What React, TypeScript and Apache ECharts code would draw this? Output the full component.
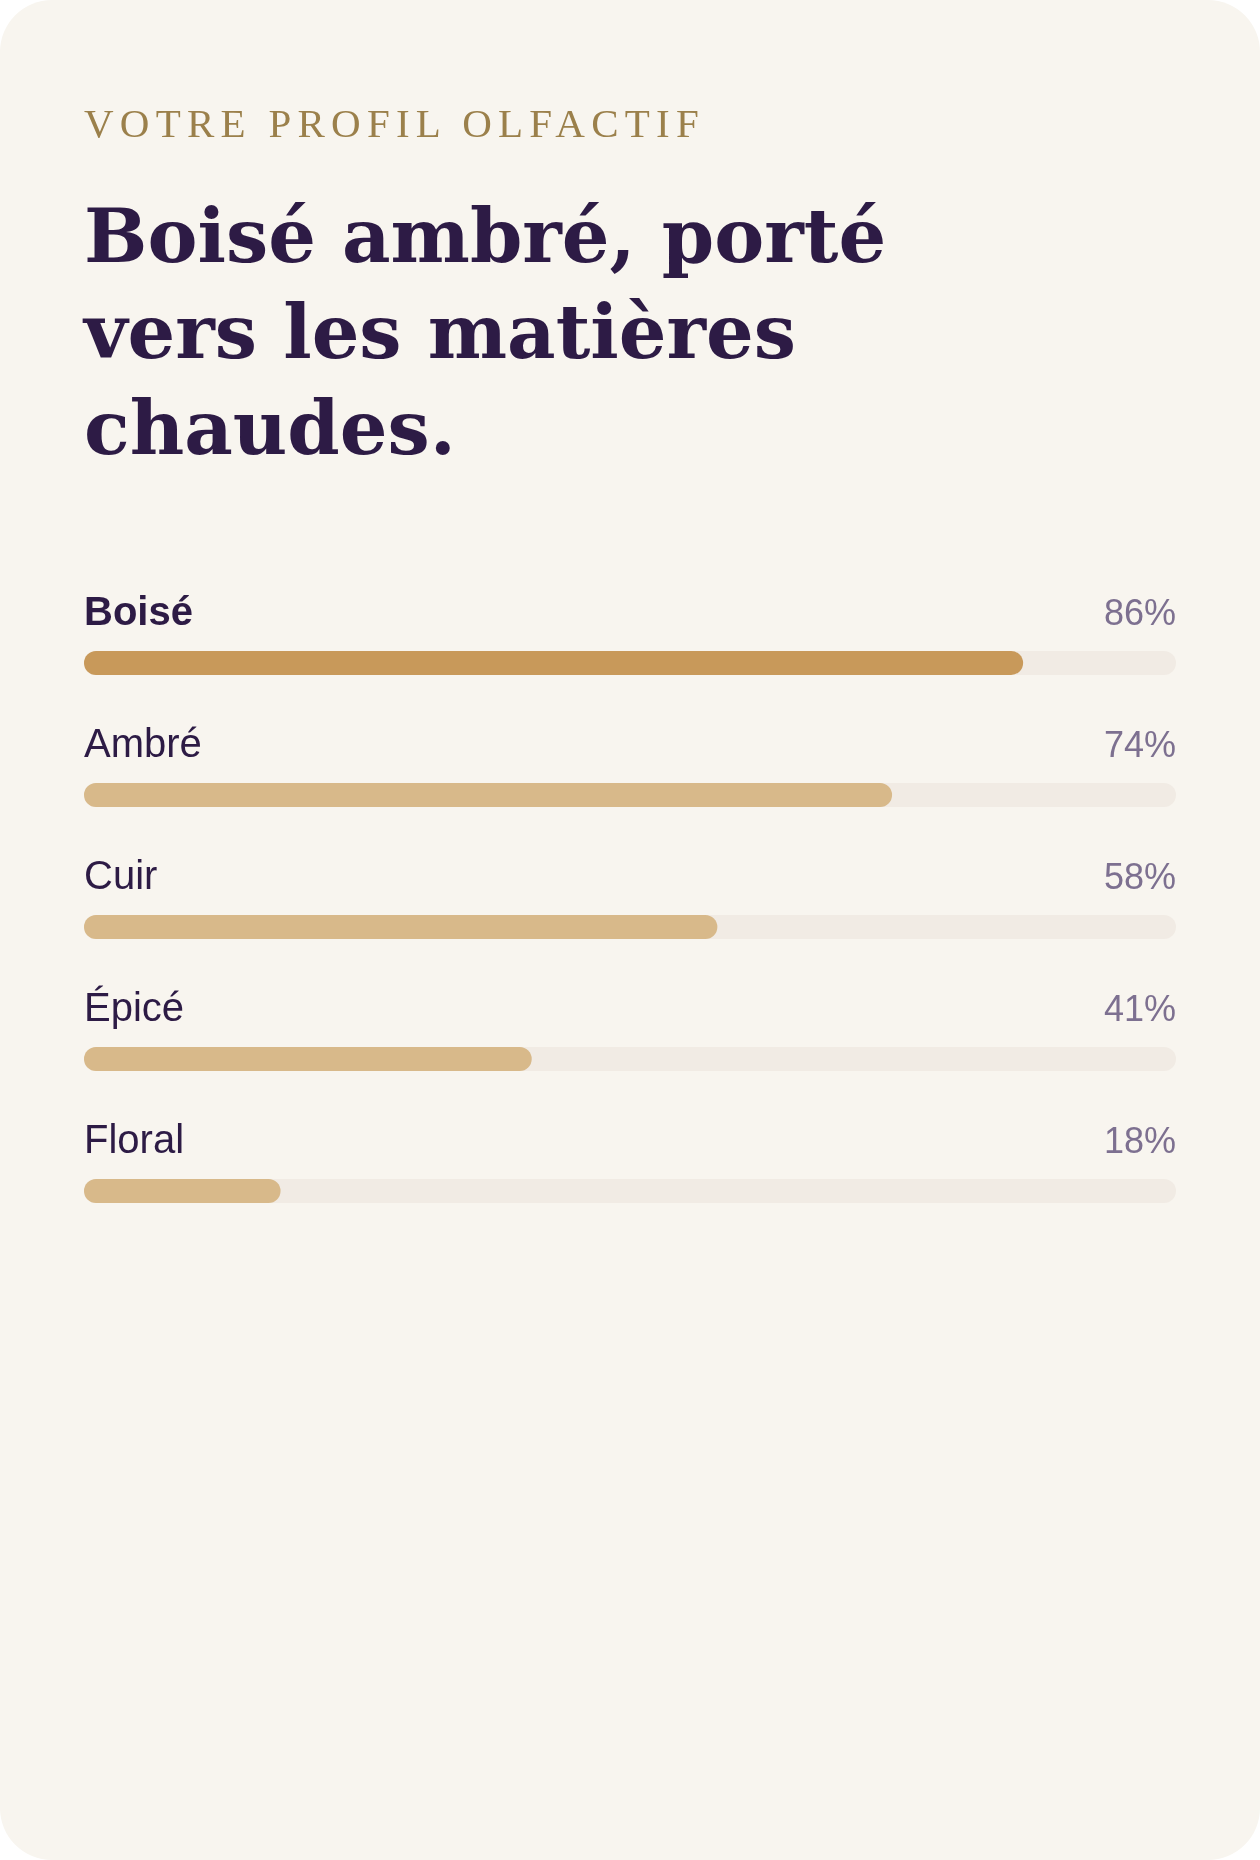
import { useEffect, useRef } from 'react';
import * as echarts from 'echarts';

const eyebrow = 'VOTRE PROFIL OLFACTIF';
const headline = ['Boisé ambré, porté', 'vers les matières', 'chaudes.'];
const notes = ['Boisé', 'Ambré', 'Cuir', 'Épicé', 'Floral'];
const scores = [86, 74, 58, 41, 18];
const leadNote = 'Boisé';
const scoreMax = 100;

const W = 1260;
const H = 1860;

const ink = '#2d1b45';
const gold = '#c8995a';
const sand = '#d8b98a';
const track = '#f1ebe4';
const paper = '#f8f5ef';

export default function App() {
  const chartRef = useRef<HTMLDivElement>(null);

  useEffect(() => {
    if (!chartRef.current) return;
    const chart = echarts.init(chartRef.current, undefined, { renderer: 'svg' });

    // zrender has no letter-spacing, so the eyebrow gets it straight on the svg node
    const trackEyebrow = () => {
      const nodes = chartRef.current?.querySelectorAll('text') ?? [];
      nodes.forEach((n) => {
        if (n.textContent === eyebrow) n.setAttribute('letter-spacing', '6.25');
      });
    };

    chart.setOption({
      animation: false,
      backgroundColor: 'transparent',
      graphic: [
        {
          type: 'rect',
          z: -10,
          silent: true,
          shape: { x: 0, y: 0, width: W, height: H, r: 52 },
          style: { fill: paper },
        },
        {
          type: 'text',
          left: 84,
          top: 102,
          style: {
            text: eyebrow,
            fill: '#9b804b',
            font: '41px "Liberation Serif", serif',
          },
        },
        {
          type: 'text',
          left: 84,
          top: 188,
          style: {
            text: headline.join('\n'),
            fill: ink,
            lineHeight: 96,
            font: 'bold 75px "DejaVu Serif", serif',
          },
        },
      ],
      grid: { left: 84, right: 84, top: 597, height: 660 },
      xAxis: { type: 'value', min: 0, max: scoreMax, show: false },
      yAxis: { type: 'category', data: notes, inverse: true, show: false },
      series: [
        {
          name: 'track',
          type: 'bar',
          silent: true,
          barWidth: 24,
          data: notes.map(() => scoreMax),
          itemStyle: { color: track, borderRadius: 12 },
          label: {
            show: true,
            position: ['100%', -39],
            align: 'right',
            verticalAlign: 'middle',
            color: '#7d7090',
            fontSize: 36,
            fontFamily: '"Liberation Sans", Arial, sans-serif',
            formatter: (p: any) => `${scores[p.dataIndex]}%`,
          },
        },
        {
          name: 'score',
          type: 'bar',
          barWidth: 24,
          barGap: '-100%',
          data: scores.map((v, i) => ({
            value: v,
            itemStyle: { color: notes[i] === leadNote ? gold : sand },
            label: { fontWeight: notes[i] === leadNote ? 'bold' : 'normal' },
          })),
          itemStyle: { borderRadius: 12 },
          label: {
            show: true,
            position: [0, -40],
            align: 'left',
            verticalAlign: 'middle',
            color: ink,
            fontSize: 40,
            fontFamily: '"Liberation Sans", Arial, sans-serif',
            formatter: '{b}',
          },
        },
      ],
    });

    trackEyebrow();
    chart.on('finished', trackEyebrow);

    return () => {
      chart.dispose();
    };
  }, []);

  return (
    <div style={{ position: 'fixed', left: 0, top: 0, width: W, height: H }}>
      <div ref={chartRef} style={{ width: W, height: H }} />
    </div>
  );
}
